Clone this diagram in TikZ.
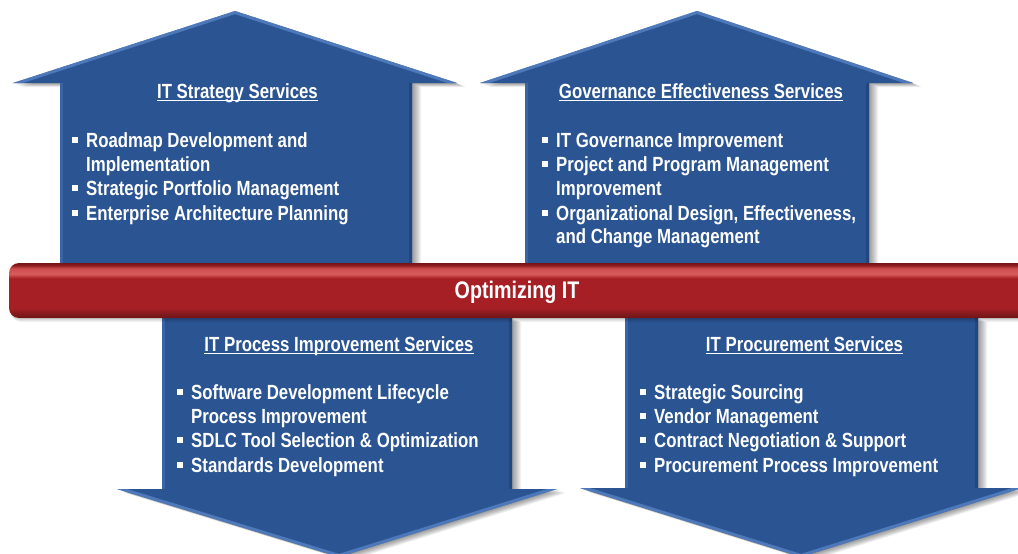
\documentclass[tikz,border=0pt]{standalone}
\usepackage{fontspec}
\newfontfamily\nar[FakeStretch=0.82]{Liberation Sans}
\definecolor{abl}{HTML}{2A5492}
\definecolor{ablL}{HTML}{5A86C8}
\definecolor{ablD}{HTML}{1C3A6C}
\definecolor{rd}{HTML}{A61F24}
\definecolor{rdL}{HTML}{D85A5A}
\definecolor{rdD}{HTML}{6E1518}
\pgfdeclareverticalshading{barsh}{100bp}{color(0bp)=(rdD); color(25bp)=(rdD); color(29bp)=(rdD!60!rd); color(34bp)=(rd); color(61bp)=(rd); color(65bp)=(rdL); color(70bp)=(rdL!80!rd); color(73bp)=(rd!85!black); color(75bp)=(rd!70!black); color(100bp)=(rd!70!black)}
\newcommand\bul{\makebox[14pt][l]{\rule[4.5pt]{5.5pt}{5.5pt}}}
\tikzset{
  txt/.style={anchor=base west, inner sep=0pt, text=white, font=\nar\bfseries\fontsize{20.5}{24.5}\selectfont},
  ttl/.style={txt, anchor=base},
  uline/.style={white, line width=1.1pt},
  pTL/.style={insert path={(60,263) -- (60,83) -- (13,83) -- (235,11) -- (457,83) -- (412,83) -- (412,263) -- cycle}},
  pTR/.style={insert path={(525,263) -- (525,83) -- (480,83) -- (697,11) -- (913,83) -- (869,83) -- (869,263) -- cycle}},
  pBL/.style={insert path={(162,318) -- (162,489) -- (117,489) -- (339,557) -- (557,489) -- (512,489) -- (512,318) -- cycle}},
  pBR/.style={insert path={(625,318) -- (625,488) -- (580,488) -- (801,557) -- (1022,488) -- (978,488) -- (978,318) -- cycle}},
}
\begin{document}
\begin{tikzpicture}[x=1pt,y=-1pt]
\useasboundingbox (0,0) rectangle (1018,554);
\clip (0,0) rectangle (1018,554);
% shadows
\foreach \p in {pTL,pTR,pBL,pBR}{
  \foreach \s in {1,...,9}{
    \fill[black,opacity=0.05,shift={(\s,\s*0.45)},\p];
  }
}
% arrows with bevels
\foreach \p/\ax/\bx/\cx/\hy/\ty/\l/\r/\ya/\yb in {pTL/13/235/457/83/11/60/412/83/263, pTR/480/697/913/83/11/525/869/83/263, pBL/117/339/557/489/557/162/512/318/489, pBR/580/801/1022/488/557/625/978/318/488}{
  \fill[abl,\p];
  \begin{scope}
    \clip[\p];
    \draw[ablL,opacity=0.75,line width=6pt] (\ax,\hy) -- (\bx,\ty) -- (\cx,\hy);
    \draw[ablL,opacity=0.35,line width=5pt] (\l,\ya) -- (\l,\yb);
    \draw[ablD,opacity=0.5,line width=6pt] (\r,\ya) -- (\r,\yb);
  \end{scope}
}
% red bar
\foreach \s in {1,...,4}{
  \fill[black,opacity=0.05,rounded corners=10pt] (9+\s*0.5,263+\s) rectangle (1040,318+\s);
}
\shade[shading=barsh, rounded corners=10pt] (9,263) rectangle (1040,318);
\node[ttl, font=\nar\bfseries\fontsize{24}{28}\selectfont] (bar) at (517,298) {Optimizing IT};
% top left
\node[ttl] (tlT) at (237.5,98) {IT Strategy Services};
\draw[uline] ([yshift=-2.5pt]tlT.base west) -- ([yshift=-2.5pt]tlT.base east);
\node[txt] (tl1) at (72,147) {\bul Roadmap Development and};
\node[txt] (tl2) at (86,171) {Implementation};
\node[txt] (tl3) at (72,195) {\bul Strategic Portfolio Management};
\node[txt] (tl4) at (72,220) {\bul Enterprise Architecture Planning};
% top right
\node[ttl] (trT) at (701,98) {Governance Effectiveness Services};
\draw[uline] ([yshift=-2.5pt]trT.base west) -- ([yshift=-2.5pt]trT.base east);
\node[txt] (tr1) at (542,147) {\bul IT Governance Improvement};
\node[txt] (tr2) at (542,171) {\bul Project and Program Management};
\node[txt] (tr3) at (556,195) {Improvement};
\node[txt] (tr4) at (542,220) {\bul Organizational Design, Effectiveness,};
\node[txt] (tr5) at (556,243) {and Change Management};
% bottom left
\node[ttl] (blT) at (339,351) {IT Process Improvement Services};
\draw[uline] ([yshift=-2.5pt]blT.base west) -- ([yshift=-2.5pt]blT.base east);
\node[txt] (bl1) at (177,399) {\bul Software Development Lifecycle};
\node[txt] (bl2) at (191,423) {Process Improvement};
\node[txt] (bl3) at (177,447) {\bul SDLC Tool Selection \& Optimization};
\node[txt] (bl4) at (177,472) {\bul Standards Development};
% bottom right
\node[ttl] (brT) at (804.5,351) {IT Procurement Services};
\draw[uline] ([yshift=-2.5pt]brT.base west) -- ([yshift=-2.5pt]brT.base east);
\node[txt] (br1) at (640,399) {\bul Strategic Sourcing};
\node[txt] (br2) at (640,423) {\bul Vendor Management};
\node[txt] (br3) at (640,447) {\bul Contract Negotiation \& Support};
\node[txt] (br4) at (640,472) {\bul Procurement Process Improvement};
\end{tikzpicture}
\end{document}
